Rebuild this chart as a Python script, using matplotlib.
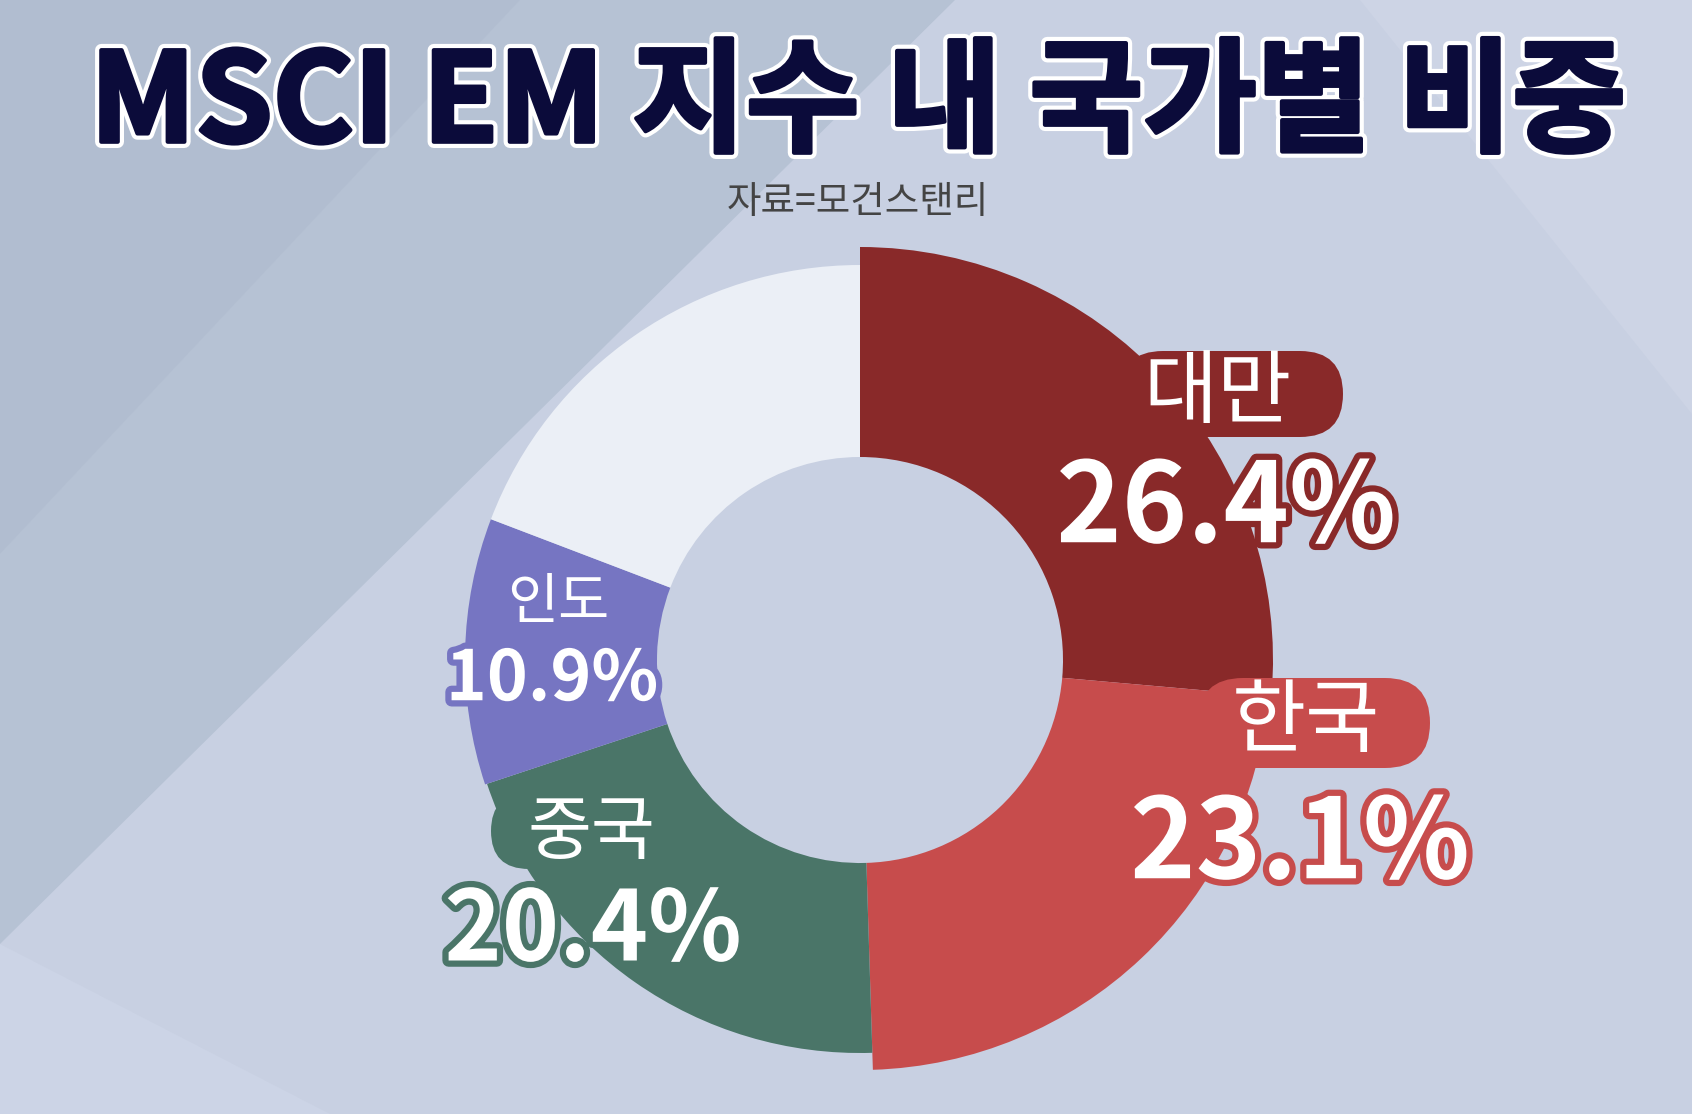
import matplotlib.pyplot as plt
import matplotlib.patheffects as pe
from matplotlib.patches import Polygon, FancyBboxPatch

plt.rcParams['font.family'] = ['Noto Sans CJK KR', 'DejaVu Sans']

# data (MSCI EM country weights, %)
countries = ['대만', '한국', '중국', '인도', '기타']
weights = [26.4, 23.1, 20.4, 10.9, 19.2]
colors = ['#892929', '#C74C4C', '#4A7568', '#7675C2', '#EBEFF6']
outer_r = [413, 410, 393, 395, 395]   # bigger slices stick out a bit
inner_r = 203
center = (860, 454)

title = 'MSCI EM 지수 내 국가별 비중'
source = '자료=모건스탠리'

bg = '#C8D0E2'
fig = plt.figure(figsize=(16.92, 11.14), dpi=100, facecolor=bg)
ax = fig.add_axes([0, 0, 1, 1])

wedges, _ = ax.pie(weights, startangle=90, counterclock=False, colors=colors,
                   radius=outer_r[0], center=center,
                   wedgeprops=dict(width=outer_r[0] - inner_r, linewidth=0))
for w, r in zip(wedges, outer_r):
    w.set_radius(r)
    w.set_width(r - inner_r)
    w.set_zorder(2)

ax.set_xlim(0, 1692)
ax.set_ylim(0, 1114)
ax.set_aspect('equal')
ax.axis('off')

# background shapes
ax.add_patch(Polygon([(0, 1114), (955, 1114), (0, 170)], closed=True,
                     facecolor='#B6C2D4', edgecolor='none', zorder=0))
ax.add_patch(Polygon([(0, 1114), (520, 1114), (0, 560)], closed=True,
                     facecolor='#AFBBCE', edgecolor='none', alpha=0.6, zorder=0))
ax.add_patch(Polygon([(1360, 1114), (1692, 1114), (1692, 700)], closed=True,
                     facecolor='#CDD4E5', edgecolor='none', zorder=0))
ax.add_patch(Polygon([(0, 0), (0, 170), (330, 0)], closed=True,
                     facecolor='#CCD4E6', edgecolor='none', zorder=0))

# title + source
ax.text(858, 1008, title, ha='center', va='center', fontsize=89,
        fontweight='black', color='#0B0B3A', zorder=5,
        path_effects=[pe.Stroke(linewidth=9, foreground='white'),
                      pe.Stroke(linewidth=3, foreground='#0B0B3A'),
                      pe.Normal()])
ax.text(858, 912, source, ha='center', va='center', fontsize=27,
        fontweight='medium', color='#444444', zorder=5)

# name pills and value labels
pills = {
    '대만': (1120, 677, 223, 86),
    '한국': (1198, 346, 232, 90),
    '중국': (491, 245, 200, 76),
}
name_pos = {'대만': (1218, 720), '한국': (1306, 391), '중국': (591, 281), '인도': (558, 511)}
value_pos = {'대만': (1226, 604), '한국': (1300, 268), '중국': (593, 182), '인도': (552, 434)}
name_size = {'대만': 58, '한국': 58, '중국': 50, '인도': 40}
value_size = {'대만': 80, '한국': 80, '중국': 70, '인도': 50}

for name, val, col in zip(countries[:4], weights[:4], colors[:4]):
    if name in pills:
        x, y, w, h = pills[name]
        ax.add_patch(FancyBboxPatch((x, y), w, h,
                                    boxstyle='round,pad=0,rounding_size=%d' % (h // 2),
                                    facecolor=col, edgecolor='none', zorder=3))
    nx, ny = name_pos[name]
    ax.text(nx, ny, name, ha='center', va='center', fontsize=name_size[name],
            color='white', fontweight='medium', zorder=4)
    vx, vy = value_pos[name]
    ax.text(vx, vy, '%.1f%%' % val, ha='center', va='center',
            fontsize=value_size[name], color='white', fontweight='bold', zorder=4,
            path_effects=[pe.Stroke(linewidth=9, foreground=col), pe.Normal()])

fig.savefig('out.png', dpi=100, facecolor=bg)
